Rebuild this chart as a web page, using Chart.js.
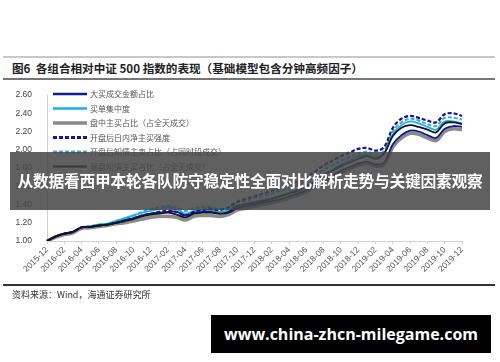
<!DOCTYPE html>
<html>
<head>
<meta charset="utf-8">
<script src="https://cdn.jsdelivr.net/npm/chart.js@4.4.1/dist/chart.umd.min.js"></script>
<style>
  body { margin: 0; background: #fff; }
  #wrap { position: relative; width: 500px; height: 362px; overflow: hidden; background: #fff; }
  #chart { position: absolute; left: 0; top: 0; }
  .rule { position: absolute; left: 3px; width: 492px; }
  #title { position: absolute; left: 12px; top: 60px; font: bold 11.6px "Noto Sans CJK SC", sans-serif; color: #222; white-space: nowrap; }
  #source { position: absolute; left: 12px; top: 288px; font: 9px "Noto Sans CJK SC", sans-serif; color: #333; white-space: nowrap; }
  #banner { position: absolute; left: 10px; top: 152px; width: 480px; height: 58px; background: rgba(70, 70, 70, 0.86);
            color: #fff; font: bold 15.8px "Noto Sans CJK SC", sans-serif; line-height: 58px; text-align: center; white-space: nowrap;
            letter-spacing: -0.3px; }
  #site { position: absolute; left: 211px; top: 315px; width: 280px; height: 38px; background: #000;
          color: #fff; font: bold 16px "Open Sans", sans-serif; line-height: 38px; text-align: center; white-space: nowrap; }
</style>
</head>
<body>
<div id="wrap">
  <div class="rule" style="top:56px;height:2px;background:#c8c8c8;"></div>
  <div id="title">图6&nbsp;&nbsp;各组合相对中证 500 指数的表现（基础模型包含分钟高频因子）</div>
  <div class="rule" style="top:78px;height:2px;background:#777;"></div>
  <canvas id="chart" width="500" height="362"></canvas>
  <div class="rule" style="top:284px;height:1.5px;background:#333;"></div>
  <div id="source">资料来源：Wind，海通证券研究所</div>
  <div id="banner">从数据看西甲本轮各队防守稳定性全面对比解析走势与关键因素观察</div>
  <div id="site">www.china-zhcn-milegame.com</div>
</div>
<script>
const months = [
    '2015-12', '2016-01', '2016-02', '2016-03', '2016-04', '2016-05', '2016-06', '2016-07', '2016-08', '2016-09',
    '2016-10', '2016-11', '2016-12', '2017-01', '2017-02', '2017-03', '2017-04', '2017-05', '2017-06', '2017-07',
    '2017-08', '2017-09', '2017-10', '2017-11', '2017-12', '2018-01', '2018-02', '2018-03', '2018-04', '2018-05',
    '2018-06', '2018-07', '2018-08', '2018-09', '2018-10', '2018-11', '2018-12', '2019-01', '2019-02', '2019-03',
    '2019-04', '2019-05', '2019-06', '2019-07', '2019-08', '2019-09', '2019-10', '2019-11', '2019-12'
];

const seriesNames = [
    '大买成交金额占比',
    '买单集中度',
    '盘中主买占比（占全天成交）',
    '开盘后日内净主买强度',
    '开盘后知情主卖占比（占同时段成交）',
    '尾盘知情主买占比（占全天成交）'
];

const bigBuyAmount = [1.00, 1.05, 1.08, 1.10, 1.15, 1.155, 1.17, 1.18, 1.20, 1.23, 1.25, 1.28, 1.30, 1.31, 1.32, 1.32, 1.28, 1.31, 1.32, 1.32,
    1.30, 1.31, 1.36, 1.38, 1.40, 1.42, 1.44, 1.46, 1.49, 1.52, 1.56, 1.61, 1.67, 1.72, 1.77, 1.81, 1.85, 1.87, 1.84, 1.86,
    2.06, 2.16, 2.21, 2.20, 2.16, 2.13, 2.23, 2.26, 2.25];
const buyConcentration = [1.00, 1.05, 1.08, 1.10, 1.15, 1.16, 1.18, 1.19, 1.22, 1.25, 1.28, 1.31, 1.33, 1.35, 1.37, 1.35, 1.30, 1.33, 1.34, 1.34,
    1.32, 1.34, 1.39, 1.41, 1.43, 1.45, 1.47, 1.50, 1.53, 1.56, 1.61, 1.66, 1.73, 1.78, 1.84, 1.88, 1.93, 1.95, 1.92, 1.96,
    2.17, 2.27, 2.31, 2.29, 2.25, 2.22, 2.31, 2.31, 2.29];
const intradayBuy = [1.00, 1.04, 1.07, 1.09, 1.14, 1.145, 1.16, 1.17, 1.19, 1.20, 1.22, 1.24, 1.26, 1.27, 1.27, 1.26, 1.23, 1.27, 1.28, 1.28,
    1.27, 1.29, 1.34, 1.36, 1.38, 1.40, 1.42, 1.44, 1.47, 1.50, 1.54, 1.59, 1.65, 1.70, 1.75, 1.79, 1.83, 1.85, 1.82, 1.84,
    2.03, 2.13, 2.18, 2.17, 2.13, 2.10, 2.20, 2.23, 2.22];
const openNetBuy = [1.00, 1.05, 1.08, 1.10, 1.15, 1.155, 1.17, 1.18, 1.20, 1.22, 1.25, 1.28, 1.30, 1.32, 1.33, 1.32, 1.28, 1.32, 1.34, 1.35,
    1.34, 1.37, 1.43, 1.46, 1.49, 1.52, 1.55, 1.58, 1.62, 1.65, 1.70, 1.76, 1.83, 1.88, 1.93, 1.97, 2.01, 2.02, 1.99, 2.03,
    2.24, 2.34, 2.37, 2.35, 2.32, 2.30, 2.39, 2.40, 2.37];
const openInformedSell = [1.00, 1.05, 1.08, 1.10, 1.15, 1.16, 1.18, 1.19, 1.22, 1.25, 1.28, 1.32, 1.35, 1.37, 1.39, 1.37, 1.33, 1.36, 1.37, 1.37,
    1.35, 1.37, 1.42, 1.44, 1.47, 1.49, 1.52, 1.55, 1.58, 1.61, 1.66, 1.71, 1.78, 1.83, 1.88, 1.92, 1.96, 1.98, 1.95, 1.99,
    2.20, 2.30, 2.34, 2.32, 2.28, 2.26, 2.35, 2.35, 2.33];
const closeInformedBuy = [1.00, 1.05, 1.08, 1.10, 1.15, 1.155, 1.17, 1.18, 1.20, 1.22, 1.24, 1.27, 1.29, 1.30, 1.31, 1.29, 1.26, 1.30, 1.31, 1.31,
    1.30, 1.32, 1.38, 1.40, 1.42, 1.44, 1.46, 1.49, 1.52, 1.55, 1.60, 1.65, 1.72, 1.77, 1.82, 1.86, 1.90, 1.93, 1.90, 1.96,
    2.15, 2.24, 2.27, 2.25, 2.22, 2.19, 2.29, 2.30, 2.28];

const yTicks = [1.00, 1.20, 1.40, 1.60, 1.80, 2.00, 2.20, 2.40, 2.60];

// legend drawn inside the plot, top-left, like the report figure
const insideLegend = {
    id: 'insideLegend',
    afterDraw(chart) {
        const ctx = chart.ctx;
        const rows = [94, 108.5, 123, 137.5, 152, 166.5];
        chart.data.datasets.forEach((ds, i) => {
            const y = rows[i];
            ctx.save();
            ctx.strokeStyle = ds.borderColor;
            ctx.lineWidth = ds.legendWidth;
            ctx.setLineDash(ds.borderDash || []);
            ctx.beginPath();
            ctx.moveTo(53, y);
            ctx.lineTo(87, y);
            ctx.stroke();
            ctx.setLineDash([]);
            ctx.fillStyle = '#555';
            ctx.font = '8px "Noto Sans CJK SC", sans-serif';
            ctx.textBaseline = 'middle';
            ctx.fillText(ds.label, 90, y);
            ctx.restore();
        });
    }
};

function makeSet(label, data, color, width, dash, legendWidth, order) {
    return {
        label: label,
        data: data,
        borderColor: color,
        backgroundColor: color,
        borderWidth: width,
        borderDash: dash,
        legendWidth: legendWidth,
        pointRadius: 0,
        tension: 0.35,
        fill: false,
        order: order
    };
}

const chartData = {
    labels: months,
    datasets: [
        makeSet(seriesNames[0], bigBuyAmount, '#0d1a94', 1.8, [], 2.6, 3),
        makeSet(seriesNames[1], buyConcentration, '#16b0ec', 1.8, [], 2.6, 4),
        makeSet(seriesNames[2], intradayBuy, '#8a8a8a', 3.6, [], 3.6, 6),
        makeSet(seriesNames[3], openNetBuy, '#12169c', 2.2, [4, 2], 3, 2),
        makeSet(seriesNames[4], openInformedSell, '#4aa7c6', 2, [4, 2], 3, 5),
        makeSet(seriesNames[5], closeInformedBuy, '#151515', 1.8, [], 2.6, 1)
    ]
};

new Chart(document.getElementById('chart'), {
    type: 'line',
    data: chartData,
    options: {
        responsive: false,
        animation: false,
        events: [],
        layout: { padding: { left: 0, right: 38, top: 95, bottom: 79 } },
        plugins: { legend: { display: false }, tooltip: { enabled: false } },
        scales: {
            x: {
                afterFit: s => { s.height = 42; },
                grid: {
                    drawOnChartArea: false,
                    drawTicks: true,
                    tickLength: 3,
                    color: c => (c.index % 2 === 0 ? '#d0d0d0' : 'rgba(0,0,0,0)')
                },
                border: { display: true, color: '#d0d0d0', width: 1 },
                ticks: {
                    autoSkip: false,
                    minRotation: 45,
                    maxRotation: 45,
                    padding: 1,
                    color: '#555',
                    font: { family: 'Arial', size: 8.5 },
                    callback: (v, i) => (i % 2 === 0 ? months[i] : '')
                }
            },
            y: {
                min: 1.0,
                max: 2.6,
                afterFit: s => { s.width = 47; },
                afterBuildTicks: s => { s.ticks = yTicks.map(v => ({ value: v })); },
                grid: { display: false },
                border: { display: true, color: '#d0d0d0', width: 1 },
                ticks: {
                    padding: 7,
                    color: '#444',
                    font: { family: 'Arial', size: 8.5 },
                    callback: v => Number(v).toFixed(2)
                }
            }
        }
    },
    plugins: [insideLegend]
});
</script>
</body>
</html>
